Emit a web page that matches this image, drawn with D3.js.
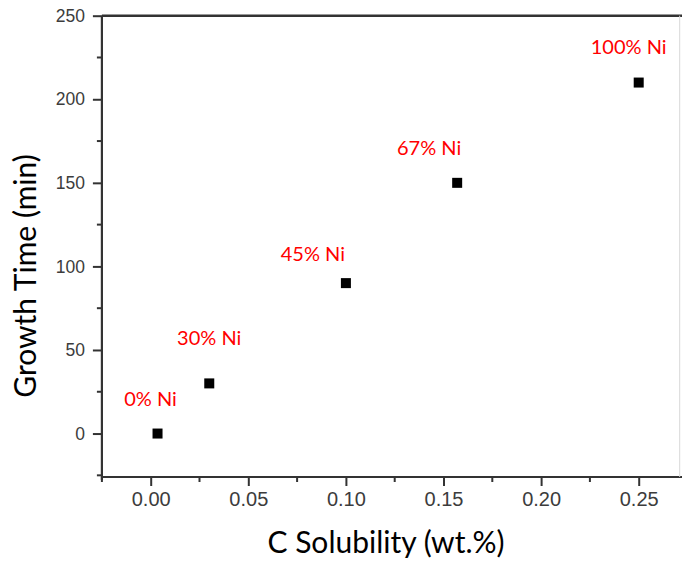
<!DOCTYPE html>
<html>
<head>
<meta charset="utf-8">
<script src="https://cdn.jsdelivr.net/npm/d3@7"></script>
<style>
  body { margin: 0; background: #fff; }
  svg { display: block; }
</style>
</head>
<body>
<svg id="chart" width="682" height="566"></svg>
<script>
// data
const labels = ['0% Ni', '30% Ni', '45% Ni', '67% Ni', '100% Ni'];
const solubility = [0.0035, 0.03, 0.1, 0.157, 0.25];
const growthTime = [0, 30, 90, 150, 210];
const xTickValues = [0, 0.05, 0.10, 0.15, 0.20, 0.25];
const yTickValues = [0, 50, 100, 150, 200, 250];

// where each red label sits relative to its point
const labelNudge = [[-7, -28], [0, -38], [-33, -22], [-28, -28], [-10, -29]];

const svg = d3.select('#chart');

const x = d3.scaleLinear().domain([-0.025, 0.271]).range([101.9, 679.7]);
const y = d3.scaleLinear().domain([-26, 250]).range([477, 15.7]);

const axisColor = '#333';

// minor ticks sit halfway between the labelled ones
const xMinor = d3.range(-0.025, 0.27, 0.05);
const yMinor = d3.range(-25, 250, 50);

const xAxis = svg.append('g')
  .attr('transform', `translate(0, ${y(-26)})`)
  .call(d3.axisBottom(x).tickValues(xTickValues).tickSize(9).tickPadding(6)
    .tickFormat(d3.format('.2f')));
xAxis.select('.domain').remove();
xAxis.selectAll('line').attr('stroke', axisColor).attr('stroke-width', 2);
xAxis.selectAll('text')
  .attr('font-family', 'Liberation Sans, Arial, sans-serif')
  .attr('font-size', 20)
  .attr('fill', '#3c3c3c');

svg.append('g')
  .selectAll('line')
  .data(xMinor)
  .join('line')
  .attr('x1', d => x(d)).attr('x2', d => x(d))
  .attr('y1', y(-26)).attr('y2', y(-26) + 5)
  .attr('stroke', axisColor).attr('stroke-width', 2);

const yAxis = svg.append('g')
  .attr('transform', `translate(${x(-0.025)}, 0)`)
  .call(d3.axisLeft(y).tickValues(yTickValues).tickSize(9).tickPadding(8));
yAxis.select('.domain').remove();
yAxis.selectAll('line').attr('stroke', axisColor).attr('stroke-width', 2);
yAxis.selectAll('text')
  .attr('font-family', 'Liberation Sans, Arial, sans-serif')
  .attr('font-size', 17.5)
  .attr('fill', '#3c3c3c');

svg.append('g')
  .selectAll('line')
  .data(yMinor)
  .join('line')
  .attr('x1', x(-0.025) - 5).attr('x2', x(-0.025))
  .attr('y1', d => y(d)).attr('y2', d => y(d))
  .attr('stroke', axisColor).attr('stroke-width', 2);

// frame
svg.append('line')
  .attr('x1', x(-0.025)).attr('x2', 682)
  .attr('y1', y(-26)).attr('y2', y(-26))
  .attr('stroke', axisColor).attr('stroke-width', 2.2);
svg.append('line')
  .attr('x1', x(-0.025)).attr('x2', x(-0.025))
  .attr('y1', y(250)).attr('y2', y(-26) + 3)
  .attr('stroke', axisColor).attr('stroke-width', 2.2);
svg.append('line')
  .attr('x1', x(-0.025)).attr('x2', 682)
  .attr('y1', y(250)).attr('y2', y(250))
  .attr('stroke', axisColor).attr('stroke-width', 2.5);
svg.append('line')
  .attr('x1', x(0.271)).attr('x2', x(0.271))
  .attr('y1', y(250)).attr('y2', y(-26))
  .attr('stroke', '#d8d8d8').attr('stroke-width', 1);

// points
const points = solubility.map((s, i) => ({ s, t: growthTime[i], label: labels[i], nudge: labelNudge[i] }));

svg.append('g')
  .selectAll('rect')
  .data(points)
  .join('rect')
  .attr('x', d => x(d.s) - 5)
  .attr('y', d => y(d.t) - 5)
  .attr('width', 10)
  .attr('height', 10)
  .attr('fill', '#000');

svg.append('g')
  .selectAll('text')
  .data(points)
  .join('text')
  .attr('x', d => x(d.s) + d.nudge[0])
  .attr('y', d => y(d.t) + d.nudge[1])
  .attr('text-anchor', 'middle')
  .attr('font-family', 'Lato, sans-serif')
  .attr('font-size', 20)
  .attr('fill', '#ff0000')
  .text(d => d.label);

// axis titles
svg.append('text')
  .attr('x', 386)
  .attr('y', 553)
  .attr('text-anchor', 'middle')
  .attr('font-family', 'Lato, sans-serif')
  .attr('font-size', 30)
  .attr('fill', '#000')
  .text('C Solubility (wt.%)');

svg.append('text')
  .attr('transform', 'translate(36, 276) rotate(-90)')
  .attr('text-anchor', 'middle')
  .attr('font-family', 'Lato, sans-serif')
  .attr('font-size', 30)
  .attr('fill', '#000')
  .text('Growth Time (min)');
</script>
</body>
</html>
